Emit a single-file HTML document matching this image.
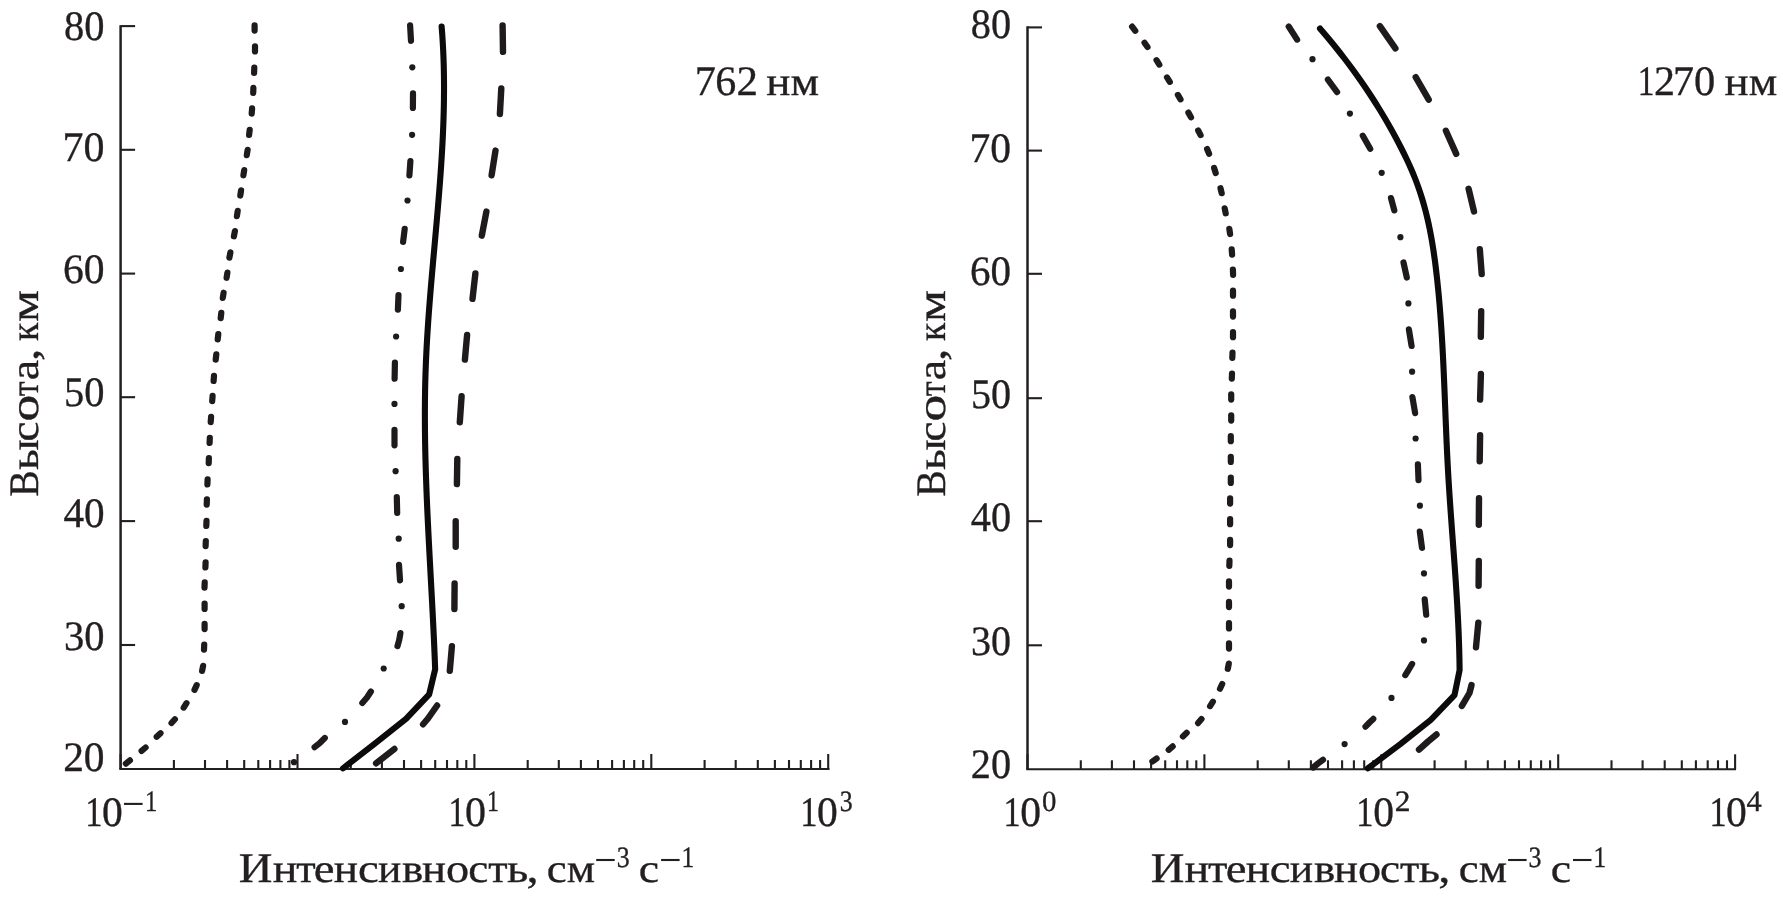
<!DOCTYPE html>
<html><head><meta charset="utf-8"><style>
html,body{margin:0;padding:0;background:#fff;width:1783px;height:898px;overflow:hidden}
svg{display:block;will-change:transform}
text{font-family:"Liberation Serif", serif;fill:#231f20;stroke:#231f20;stroke-width:0.35px;text-rendering:geometricPrecision}
</style></head><body>
<svg width="1783" height="898" viewBox="0 0 1783 898"><path d="M120.6 25.15 V769.0" stroke="#231f20" stroke-width="2.5" fill="none"/>
<path d="M119.35 769.0 H829.5" stroke="#231f20" stroke-width="2.1" fill="none"/>
<path d="M120.6 26.1 h14.5" stroke="#231f20" stroke-width="2.1"/>
<path d="M120.6 149.8 h14.5" stroke="#231f20" stroke-width="2.1"/>
<path d="M120.6 273.6 h14.5" stroke="#231f20" stroke-width="2.1"/>
<path d="M120.6 397.2 h14.5" stroke="#231f20" stroke-width="2.1"/>
<path d="M120.6 521.1 h14.5" stroke="#231f20" stroke-width="2.1"/>
<path d="M120.6 645.0 h14.5" stroke="#231f20" stroke-width="2.1"/>
<path d="M120.6 769.0 v-15" stroke="#231f20" stroke-width="2.1"/>
<path d="M173.9 769.0 v-9" stroke="#231f20" stroke-width="2.1"/>
<path d="M205.0 769.0 v-9" stroke="#231f20" stroke-width="2.1"/>
<path d="M227.1 769.0 v-9" stroke="#231f20" stroke-width="2.1"/>
<path d="M244.2 769.0 v-9" stroke="#231f20" stroke-width="2.1"/>
<path d="M258.3 769.0 v-9" stroke="#231f20" stroke-width="2.1"/>
<path d="M270.1 769.0 v-9" stroke="#231f20" stroke-width="2.1"/>
<path d="M280.4 769.0 v-9" stroke="#231f20" stroke-width="2.1"/>
<path d="M289.4 769.0 v-9" stroke="#231f20" stroke-width="2.1"/>
<path d="M297.5 769.0 v-15" stroke="#231f20" stroke-width="2.1"/>
<path d="M350.8 769.0 v-9" stroke="#231f20" stroke-width="2.1"/>
<path d="M381.9 769.0 v-9" stroke="#231f20" stroke-width="2.1"/>
<path d="M404.0 769.0 v-9" stroke="#231f20" stroke-width="2.1"/>
<path d="M421.1 769.0 v-9" stroke="#231f20" stroke-width="2.1"/>
<path d="M435.2 769.0 v-9" stroke="#231f20" stroke-width="2.1"/>
<path d="M447.0 769.0 v-9" stroke="#231f20" stroke-width="2.1"/>
<path d="M457.3 769.0 v-9" stroke="#231f20" stroke-width="2.1"/>
<path d="M466.3 769.0 v-9" stroke="#231f20" stroke-width="2.1"/>
<path d="M474.4 769.0 v-15" stroke="#231f20" stroke-width="2.1"/>
<path d="M527.7 769.0 v-9" stroke="#231f20" stroke-width="2.1"/>
<path d="M558.8 769.0 v-9" stroke="#231f20" stroke-width="2.1"/>
<path d="M580.9 769.0 v-9" stroke="#231f20" stroke-width="2.1"/>
<path d="M598.0 769.0 v-9" stroke="#231f20" stroke-width="2.1"/>
<path d="M612.1 769.0 v-9" stroke="#231f20" stroke-width="2.1"/>
<path d="M623.9 769.0 v-9" stroke="#231f20" stroke-width="2.1"/>
<path d="M634.2 769.0 v-9" stroke="#231f20" stroke-width="2.1"/>
<path d="M643.2 769.0 v-9" stroke="#231f20" stroke-width="2.1"/>
<path d="M651.3 769.0 v-15" stroke="#231f20" stroke-width="2.1"/>
<path d="M704.6 769.0 v-9" stroke="#231f20" stroke-width="2.1"/>
<path d="M735.7 769.0 v-9" stroke="#231f20" stroke-width="2.1"/>
<path d="M757.8 769.0 v-9" stroke="#231f20" stroke-width="2.1"/>
<path d="M774.9 769.0 v-9" stroke="#231f20" stroke-width="2.1"/>
<path d="M789.0 769.0 v-9" stroke="#231f20" stroke-width="2.1"/>
<path d="M800.8 769.0 v-9" stroke="#231f20" stroke-width="2.1"/>
<path d="M811.1 769.0 v-9" stroke="#231f20" stroke-width="2.1"/>
<path d="M820.1 769.0 v-9" stroke="#231f20" stroke-width="2.1"/>
<path d="M828.2 769.0 v-15" stroke="#231f20" stroke-width="2.1"/>
<path d="M1027.5 26.35 V769.3" stroke="#231f20" stroke-width="2.5" fill="none"/>
<path d="M1026.25 769.3 H1736" stroke="#231f20" stroke-width="2.1" fill="none"/>
<path d="M1027.5 27.4 h14.5" stroke="#231f20" stroke-width="2.1"/>
<path d="M1027.5 150.6 h14.5" stroke="#231f20" stroke-width="2.1"/>
<path d="M1027.5 273.8 h14.5" stroke="#231f20" stroke-width="2.1"/>
<path d="M1027.5 398.2 h14.5" stroke="#231f20" stroke-width="2.1"/>
<path d="M1027.5 521.2 h14.5" stroke="#231f20" stroke-width="2.1"/>
<path d="M1027.5 645.3 h14.5" stroke="#231f20" stroke-width="2.1"/>
<path d="M1027.5 769.3 v-15" stroke="#231f20" stroke-width="2.1"/>
<path d="M1080.8 769.3 v-9" stroke="#231f20" stroke-width="2.1"/>
<path d="M1111.9 769.3 v-9" stroke="#231f20" stroke-width="2.1"/>
<path d="M1134.0 769.3 v-9" stroke="#231f20" stroke-width="2.1"/>
<path d="M1151.1 769.3 v-9" stroke="#231f20" stroke-width="2.1"/>
<path d="M1165.2 769.3 v-9" stroke="#231f20" stroke-width="2.1"/>
<path d="M1177.0 769.3 v-9" stroke="#231f20" stroke-width="2.1"/>
<path d="M1187.3 769.3 v-9" stroke="#231f20" stroke-width="2.1"/>
<path d="M1196.3 769.3 v-9" stroke="#231f20" stroke-width="2.1"/>
<path d="M1204.4 769.3 v-15" stroke="#231f20" stroke-width="2.1"/>
<path d="M1257.7 769.3 v-9" stroke="#231f20" stroke-width="2.1"/>
<path d="M1288.8 769.3 v-9" stroke="#231f20" stroke-width="2.1"/>
<path d="M1310.9 769.3 v-9" stroke="#231f20" stroke-width="2.1"/>
<path d="M1328.0 769.3 v-9" stroke="#231f20" stroke-width="2.1"/>
<path d="M1342.1 769.3 v-9" stroke="#231f20" stroke-width="2.1"/>
<path d="M1353.9 769.3 v-9" stroke="#231f20" stroke-width="2.1"/>
<path d="M1364.2 769.3 v-9" stroke="#231f20" stroke-width="2.1"/>
<path d="M1373.2 769.3 v-9" stroke="#231f20" stroke-width="2.1"/>
<path d="M1381.3 769.3 v-15" stroke="#231f20" stroke-width="2.1"/>
<path d="M1434.6 769.3 v-9" stroke="#231f20" stroke-width="2.1"/>
<path d="M1465.7 769.3 v-9" stroke="#231f20" stroke-width="2.1"/>
<path d="M1487.8 769.3 v-9" stroke="#231f20" stroke-width="2.1"/>
<path d="M1504.9 769.3 v-9" stroke="#231f20" stroke-width="2.1"/>
<path d="M1519.0 769.3 v-9" stroke="#231f20" stroke-width="2.1"/>
<path d="M1530.8 769.3 v-9" stroke="#231f20" stroke-width="2.1"/>
<path d="M1541.1 769.3 v-9" stroke="#231f20" stroke-width="2.1"/>
<path d="M1550.1 769.3 v-9" stroke="#231f20" stroke-width="2.1"/>
<path d="M1558.2 769.3 v-15" stroke="#231f20" stroke-width="2.1"/>
<path d="M1611.5 769.3 v-9" stroke="#231f20" stroke-width="2.1"/>
<path d="M1642.6 769.3 v-9" stroke="#231f20" stroke-width="2.1"/>
<path d="M1664.7 769.3 v-9" stroke="#231f20" stroke-width="2.1"/>
<path d="M1681.8 769.3 v-9" stroke="#231f20" stroke-width="2.1"/>
<path d="M1695.9 769.3 v-9" stroke="#231f20" stroke-width="2.1"/>
<path d="M1707.7 769.3 v-9" stroke="#231f20" stroke-width="2.1"/>
<path d="M1718.0 769.3 v-9" stroke="#231f20" stroke-width="2.1"/>
<path d="M1727.0 769.3 v-9" stroke="#231f20" stroke-width="2.1"/>
<path d="M1735.1 769.3 v-15" stroke="#231f20" stroke-width="2.1"/>
<path d="M441.62 26.50 C441.75 28.17 442.15 33.17 442.38 36.50 C442.60 39.83 442.80 43.17 442.98 46.50 C443.16 49.83 443.31 53.17 443.44 56.50 C443.57 59.83 443.67 63.17 443.76 66.50 C443.85 69.83 443.91 73.17 443.95 76.50 C444.00 79.83 444.02 83.17 444.03 86.50 C444.03 89.83 444.01 93.17 443.98 96.50 C443.95 99.83 443.90 103.17 443.83 106.50 C443.76 109.83 443.68 113.17 443.58 116.50 C443.48 119.83 443.36 123.17 443.24 126.50 C443.11 129.83 442.96 133.17 442.81 136.50 C442.65 139.83 442.48 143.17 442.30 146.50 C442.11 149.83 441.92 153.17 441.72 156.50 C441.51 159.83 441.29 163.17 441.07 166.50 C440.85 169.83 440.61 173.17 440.37 176.50 C440.13 179.83 439.87 183.17 439.62 186.50 C439.36 189.83 439.09 193.17 438.82 196.50 C438.55 199.83 438.27 203.17 437.99 206.50 C437.71 209.83 437.42 213.17 437.13 216.50 C436.84 219.83 436.55 223.17 436.25 226.50 C435.96 229.83 435.66 233.17 435.36 236.50 C435.06 239.83 434.76 243.17 434.46 246.50 C434.16 249.83 433.86 253.17 433.56 256.50 C433.26 259.83 432.96 263.17 432.67 266.50 C432.37 269.83 432.08 273.17 431.79 276.50 C431.50 279.83 431.21 283.17 430.93 286.50 C430.65 289.83 430.38 293.17 430.11 296.50 C429.84 299.83 429.58 303.17 429.32 306.50 C429.06 309.83 428.81 313.17 428.57 316.50 C428.33 319.83 428.10 323.17 427.88 326.50 C427.66 329.83 427.45 333.17 427.24 336.50 C427.04 339.83 426.85 343.17 426.67 346.50 C426.50 349.83 426.33 353.17 426.18 356.50 C426.02 359.83 425.88 363.17 425.76 366.50 C425.63 369.83 425.52 373.17 425.42 376.50 C425.33 379.83 425.24 383.17 425.17 386.50 C425.10 389.83 425.05 393.17 425.00 396.50 C424.96 399.83 424.93 403.17 424.91 406.50 C424.89 409.83 424.88 413.17 424.88 416.50 C424.89 419.83 424.90 423.17 424.93 426.50 C424.95 429.83 424.98 433.17 425.03 436.50 C425.07 439.83 425.13 443.17 425.19 446.50 C425.25 449.83 425.33 453.17 425.41 456.50 C425.49 459.83 425.58 463.17 425.67 466.50 C425.77 469.83 425.87 473.17 425.99 476.50 C426.10 479.83 426.22 483.17 426.34 486.50 C426.46 489.83 426.59 493.17 426.73 496.50 C426.87 499.83 427.01 503.17 427.15 506.50 C427.30 509.83 427.45 513.17 427.61 516.50 C427.76 519.83 427.92 523.17 428.09 526.50 C428.25 529.83 428.41 533.17 428.58 536.50 C428.75 539.83 428.93 543.17 429.10 546.50 C429.27 549.83 429.45 553.17 429.63 556.50 C429.80 559.83 429.98 563.17 430.16 566.50 C430.34 569.83 430.52 573.17 430.70 576.50 C430.88 579.83 431.06 583.17 431.24 586.50 C431.42 589.83 431.60 593.17 431.78 596.50 C431.96 599.83 432.13 603.17 432.31 606.50 C432.48 609.83 432.65 613.17 432.82 616.50 C432.99 619.83 433.16 623.17 433.32 626.50 C433.48 629.83 433.64 633.17 433.80 636.50 C433.95 639.83 434.10 643.17 434.25 646.50 C434.39 649.83 434.53 653.17 434.67 656.50 C434.80 659.83 434.98 664.37 435.06 666.50 C435.14 668.63 435.14 668.83 435.16 669.30 L429.20 694.30 L406.00 718.80 L374.20 744.10 L343.00 768.30" stroke="#0c0a0a" stroke-width="6.1" fill="none" stroke-linecap="round" stroke-linejoin="round"/>
<path d="M502.6 25.5 L503.0 51.9" stroke="#1f1b1c" stroke-width="6.4" fill="none" stroke-linecap="round" stroke-linejoin="round"/>
<path d="M501.3 88.5 L499.9 114.0" stroke="#1f1b1c" stroke-width="6.4" fill="none" stroke-linecap="round" stroke-linejoin="round"/>
<path d="M495.5 150.6 L491.6 175.3" stroke="#1f1b1c" stroke-width="6.4" fill="none" stroke-linecap="round" stroke-linejoin="round"/>
<path d="M486.4 211.6 L481.8 235.7" stroke="#1f1b1c" stroke-width="6.4" fill="none" stroke-linecap="round" stroke-linejoin="round"/>
<path d="M475.4 273.4 L472.5 298.8" stroke="#1f1b1c" stroke-width="6.4" fill="none" stroke-linecap="round" stroke-linejoin="round"/>
<path d="M467.1 335.0 L464.9 359.6" stroke="#1f1b1c" stroke-width="6.4" fill="none" stroke-linecap="round" stroke-linejoin="round"/>
<path d="M461.6 396.2 L459.8 422.3" stroke="#1f1b1c" stroke-width="6.4" fill="none" stroke-linecap="round" stroke-linejoin="round"/>
<path d="M457.3 458.9 L456.9 484.1" stroke="#1f1b1c" stroke-width="6.4" fill="none" stroke-linecap="round" stroke-linejoin="round"/>
<path d="M455.7 521.1 L455.7 546.8" stroke="#1f1b1c" stroke-width="6.4" fill="none" stroke-linecap="round" stroke-linejoin="round"/>
<path d="M454.6 583.4 L454.4 609.0" stroke="#1f1b1c" stroke-width="6.4" fill="none" stroke-linecap="round" stroke-linejoin="round"/>
<path d="M451.9 646.2 L449.8 670.8" stroke="#1f1b1c" stroke-width="6.4" fill="none" stroke-linecap="round" stroke-linejoin="round"/>
<path d="M437.1 705.5 L428.0 718.5 L423.1 724.3" stroke="#1f1b1c" stroke-width="6.4" fill="none" stroke-linecap="round" stroke-linejoin="round"/>
<path d="M394.4 748.9 L376.1 763.3" stroke="#1f1b1c" stroke-width="6.4" fill="none" stroke-linecap="round" stroke-linejoin="round"/>
<path d="M254.6 25.4 L254.6 30.6" stroke="#1f1b1c" stroke-width="6.2" fill="none" stroke-linecap="round" stroke-linejoin="round"/>
<path d="M255.0 46.3 L255.0 51.5" stroke="#1f1b1c" stroke-width="6.2" fill="none" stroke-linecap="round" stroke-linejoin="round"/>
<path d="M254.3 67.6 L254.1 72.8" stroke="#1f1b1c" stroke-width="6.2" fill="none" stroke-linecap="round" stroke-linejoin="round"/>
<path d="M253.4 87.8 L253.2 93.0" stroke="#1f1b1c" stroke-width="6.2" fill="none" stroke-linecap="round" stroke-linejoin="round"/>
<path d="M252.1 108.4 L251.7 113.6" stroke="#1f1b1c" stroke-width="6.2" fill="none" stroke-linecap="round" stroke-linejoin="round"/>
<path d="M249.7 129.8 L249.1 135.0" stroke="#1f1b1c" stroke-width="6.2" fill="none" stroke-linecap="round" stroke-linejoin="round"/>
<path d="M247.6 149.9 L246.8 155.1" stroke="#1f1b1c" stroke-width="6.2" fill="none" stroke-linecap="round" stroke-linejoin="round"/>
<path d="M244.2 170.1 L243.4 175.3" stroke="#1f1b1c" stroke-width="6.2" fill="none" stroke-linecap="round" stroke-linejoin="round"/>
<path d="M241.1 190.3 L240.3 195.5" stroke="#1f1b1c" stroke-width="6.2" fill="none" stroke-linecap="round" stroke-linejoin="round"/>
<path d="M237.7 210.9 L236.9 216.1" stroke="#1f1b1c" stroke-width="6.2" fill="none" stroke-linecap="round" stroke-linejoin="round"/>
<path d="M234.9 231.1 L233.9 236.3" stroke="#1f1b1c" stroke-width="6.2" fill="none" stroke-linecap="round" stroke-linejoin="round"/>
<path d="M230.4 252.4 L229.4 257.6" stroke="#1f1b1c" stroke-width="6.2" fill="none" stroke-linecap="round" stroke-linejoin="round"/>
<path d="M227.4 272.6 L226.6 277.8" stroke="#1f1b1c" stroke-width="6.2" fill="none" stroke-linecap="round" stroke-linejoin="round"/>
<path d="M223.6 292.7 L222.8 297.9" stroke="#1f1b1c" stroke-width="6.2" fill="none" stroke-linecap="round" stroke-linejoin="round"/>
<path d="M221.3 312.9 L220.7 318.1" stroke="#1f1b1c" stroke-width="6.2" fill="none" stroke-linecap="round" stroke-linejoin="round"/>
<path d="M218.3 334.2 L217.7 339.4" stroke="#1f1b1c" stroke-width="6.2" fill="none" stroke-linecap="round" stroke-linejoin="round"/>
<path d="M216.3 354.4 L215.7 359.6" stroke="#1f1b1c" stroke-width="6.2" fill="none" stroke-linecap="round" stroke-linejoin="round"/>
<path d="M214.0 375.8 L213.6 381.0" stroke="#1f1b1c" stroke-width="6.2" fill="none" stroke-linecap="round" stroke-linejoin="round"/>
<path d="M212.6 395.9 L212.2 401.1" stroke="#1f1b1c" stroke-width="6.2" fill="none" stroke-linecap="round" stroke-linejoin="round"/>
<path d="M211.1 416.9 L210.7 422.1" stroke="#1f1b1c" stroke-width="6.2" fill="none" stroke-linecap="round" stroke-linejoin="round"/>
<path d="M209.8 437.8 L209.6 443.0" stroke="#1f1b1c" stroke-width="6.2" fill="none" stroke-linecap="round" stroke-linejoin="round"/>
<path d="M208.9 458.0 L208.7 463.2" stroke="#1f1b1c" stroke-width="6.2" fill="none" stroke-linecap="round" stroke-linejoin="round"/>
<path d="M207.6 479.3 L207.4 484.5" stroke="#1f1b1c" stroke-width="6.2" fill="none" stroke-linecap="round" stroke-linejoin="round"/>
<path d="M206.9 499.4 L206.7 504.6" stroke="#1f1b1c" stroke-width="6.2" fill="none" stroke-linecap="round" stroke-linejoin="round"/>
<path d="M206.5 520.8 L206.3 526.0" stroke="#1f1b1c" stroke-width="6.2" fill="none" stroke-linecap="round" stroke-linejoin="round"/>
<path d="M205.8 541.0 L205.6 546.2" stroke="#1f1b1c" stroke-width="6.2" fill="none" stroke-linecap="round" stroke-linejoin="round"/>
<path d="M205.6 562.3 L205.4 567.5" stroke="#1f1b1c" stroke-width="6.2" fill="none" stroke-linecap="round" stroke-linejoin="round"/>
<path d="M204.7 582.4 L204.5 587.6" stroke="#1f1b1c" stroke-width="6.2" fill="none" stroke-linecap="round" stroke-linejoin="round"/>
<path d="M204.6 603.7 L204.6 608.9" stroke="#1f1b1c" stroke-width="6.2" fill="none" stroke-linecap="round" stroke-linejoin="round"/>
<path d="M204.6 623.9 L204.6 629.1" stroke="#1f1b1c" stroke-width="6.2" fill="none" stroke-linecap="round" stroke-linejoin="round"/>
<path d="M204.2 644.5 L204.0 649.7" stroke="#1f1b1c" stroke-width="6.2" fill="none" stroke-linecap="round" stroke-linejoin="round"/>
<path d="M203.1 665.9 L202.1 670.9" stroke="#1f1b1c" stroke-width="6.2" fill="none" stroke-linecap="round" stroke-linejoin="round"/>
<path d="M196.7 685.1 L194.5 689.9" stroke="#1f1b1c" stroke-width="6.2" fill="none" stroke-linecap="round" stroke-linejoin="round"/>
<path d="M186.5 703.2 L183.7 707.6" stroke="#1f1b1c" stroke-width="6.2" fill="none" stroke-linecap="round" stroke-linejoin="round"/>
<path d="M174.9 719.2 L171.5 723.0" stroke="#1f1b1c" stroke-width="6.2" fill="none" stroke-linecap="round" stroke-linejoin="round"/>
<path d="M160.5 733.2 L156.7 736.8" stroke="#1f1b1c" stroke-width="6.2" fill="none" stroke-linecap="round" stroke-linejoin="round"/>
<path d="M145.6 747.5 L141.6 750.9" stroke="#1f1b1c" stroke-width="6.2" fill="none" stroke-linecap="round" stroke-linejoin="round"/>
<path d="M129.9 760.4 L125.9 763.6" stroke="#1f1b1c" stroke-width="6.2" fill="none" stroke-linecap="round" stroke-linejoin="round"/>
<path d="M410.1 25.4 L411.0 40.8" stroke="#1f1b1c" stroke-width="6.2" fill="none" stroke-linecap="round" stroke-linejoin="round"/>
<path d="M413.0 93.4 L412.9 108.0" stroke="#1f1b1c" stroke-width="6.2" fill="none" stroke-linecap="round" stroke-linejoin="round"/>
<path d="M410.4 161.0 L409.4 175.4" stroke="#1f1b1c" stroke-width="6.2" fill="none" stroke-linecap="round" stroke-linejoin="round"/>
<path d="M404.7 228.8 L403.1 241.9" stroke="#1f1b1c" stroke-width="6.2" fill="none" stroke-linecap="round" stroke-linejoin="round"/>
<path d="M398.5 295.0 L397.9 309.6" stroke="#1f1b1c" stroke-width="6.2" fill="none" stroke-linecap="round" stroke-linejoin="round"/>
<path d="M394.9 362.7 L394.6 378.7" stroke="#1f1b1c" stroke-width="6.2" fill="none" stroke-linecap="round" stroke-linejoin="round"/>
<path d="M394.5 429.9 L394.5 445.3" stroke="#1f1b1c" stroke-width="6.2" fill="none" stroke-linecap="round" stroke-linejoin="round"/>
<path d="M396.8 497.0 L397.2 513.0" stroke="#1f1b1c" stroke-width="6.2" fill="none" stroke-linecap="round" stroke-linejoin="round"/>
<path d="M399.0 564.9 L400.0 580.3" stroke="#1f1b1c" stroke-width="6.2" fill="none" stroke-linecap="round" stroke-linejoin="round"/>
<path d="M400.4 633.1 L399.2 640.0 L397.5 646.1" stroke="#1f1b1c" stroke-width="6.2" fill="none" stroke-linecap="round" stroke-linejoin="round"/>
<path d="M370.9 691.5 L367.0 697.5 L362.3 703.0" stroke="#1f1b1c" stroke-width="6.2" fill="none" stroke-linecap="round" stroke-linejoin="round"/>
<path d="M324.8 738.0 L320.0 742.8 L314.6 747.2" stroke="#1f1b1c" stroke-width="6.2" fill="none" stroke-linecap="round" stroke-linejoin="round"/>
<circle cx="412.3" cy="67.3" r="3.10" fill="#1f1b1c"/>
<circle cx="412.1" cy="134.8" r="3.10" fill="#1f1b1c"/>
<circle cx="407.5" cy="200.5" r="3.10" fill="#1f1b1c"/>
<circle cx="400.9" cy="269.0" r="3.10" fill="#1f1b1c"/>
<circle cx="396.1" cy="336.5" r="3.10" fill="#1f1b1c"/>
<circle cx="394.5" cy="403.9" r="3.10" fill="#1f1b1c"/>
<circle cx="395.6" cy="471.2" r="3.10" fill="#1f1b1c"/>
<circle cx="398.7" cy="538.7" r="3.10" fill="#1f1b1c"/>
<circle cx="401.7" cy="606.2" r="3.10" fill="#1f1b1c"/>
<circle cx="383.7" cy="668.5" r="3.10" fill="#1f1b1c"/>
<circle cx="345.0" cy="721.9" r="3.10" fill="#1f1b1c"/>
<circle cx="294.0" cy="762.2" r="3.10" fill="#1f1b1c"/>
<path d="M1319.98 28.50 C1321.40 30.17 1325.70 35.17 1328.47 38.50 C1331.24 41.83 1333.96 45.17 1336.62 48.50 C1339.29 51.83 1341.90 55.17 1344.46 58.50 C1347.01 61.83 1349.52 65.17 1351.97 68.50 C1354.42 71.83 1356.82 75.17 1359.17 78.50 C1361.52 81.83 1363.82 85.17 1366.07 88.50 C1368.32 91.83 1370.52 95.17 1372.67 98.50 C1374.82 101.83 1376.93 105.17 1378.98 108.50 C1381.04 111.83 1383.05 115.17 1385.01 118.50 C1386.97 121.83 1388.89 125.17 1390.76 128.50 C1392.63 131.83 1394.45 135.17 1396.23 138.50 C1398.01 141.83 1399.75 145.17 1401.44 148.50 C1403.13 151.83 1404.78 155.17 1406.36 158.50 C1407.95 161.83 1409.48 165.17 1410.94 168.50 C1412.39 171.83 1413.79 175.17 1415.10 178.50 C1416.41 181.83 1417.64 185.17 1418.80 188.50 C1419.96 191.83 1421.04 195.17 1422.06 198.50 C1423.08 201.83 1424.03 205.17 1424.92 208.50 C1425.82 211.83 1426.64 215.17 1427.42 218.50 C1428.20 221.83 1428.93 225.17 1429.60 228.50 C1430.28 231.83 1430.91 235.17 1431.50 238.50 C1432.09 241.83 1432.64 245.17 1433.16 248.50 C1433.67 251.83 1434.15 255.17 1434.60 258.50 C1435.06 261.83 1435.48 265.17 1435.89 268.50 C1436.29 271.83 1436.67 275.17 1437.04 278.50 C1437.40 281.83 1437.75 285.17 1438.08 288.50 C1438.41 291.83 1438.73 295.17 1439.03 298.50 C1439.33 301.83 1439.61 305.17 1439.88 308.50 C1440.15 311.83 1440.41 315.17 1440.65 318.50 C1440.90 321.83 1441.13 325.17 1441.35 328.50 C1441.57 331.83 1441.78 335.17 1441.98 338.50 C1442.18 341.83 1442.37 345.17 1442.55 348.50 C1442.73 351.83 1442.91 355.17 1443.07 358.50 C1443.24 361.83 1443.40 365.17 1443.55 368.50 C1443.71 371.83 1443.86 375.17 1444.00 378.50 C1444.15 381.83 1444.28 385.17 1444.42 388.50 C1444.56 391.83 1444.69 395.17 1444.83 398.50 C1444.96 401.83 1445.09 405.17 1445.23 408.50 C1445.36 411.83 1445.49 415.17 1445.62 418.50 C1445.76 421.83 1445.89 425.17 1446.03 428.50 C1446.17 431.83 1446.31 435.17 1446.45 438.50 C1446.60 441.83 1446.74 445.17 1446.90 448.50 C1447.05 451.83 1447.21 455.17 1447.38 458.50 C1447.55 461.83 1447.72 465.17 1447.90 468.50 C1448.08 471.83 1448.27 475.17 1448.47 478.50 C1448.67 481.83 1448.88 485.17 1449.09 488.50 C1449.30 491.83 1449.52 495.17 1449.75 498.50 C1449.97 501.83 1450.20 505.17 1450.44 508.50 C1450.67 511.83 1450.91 515.17 1451.16 518.50 C1451.40 521.83 1451.64 525.17 1451.89 528.50 C1452.13 531.83 1452.38 535.17 1452.63 538.50 C1452.88 541.83 1453.13 545.17 1453.37 548.50 C1453.62 551.83 1453.87 555.17 1454.11 558.50 C1454.36 561.83 1454.60 565.17 1454.84 568.50 C1455.07 571.83 1455.31 575.17 1455.54 578.50 C1455.77 581.83 1455.99 585.17 1456.21 588.50 C1456.43 591.83 1456.64 595.17 1456.84 598.50 C1457.05 601.83 1457.24 605.17 1457.43 608.50 C1457.62 611.83 1457.80 615.17 1457.97 618.50 C1458.14 621.83 1458.30 625.17 1458.44 628.50 C1458.59 631.83 1458.73 635.17 1458.85 638.50 C1458.97 641.83 1459.09 645.17 1459.18 648.50 C1459.28 651.83 1459.36 655.17 1459.43 658.50 C1459.50 661.83 1459.55 666.57 1459.58 668.50 C1459.61 670.43 1459.60 669.83 1459.60 670.10 L1454.50 695.10 L1430.80 719.80 L1400.30 744.10 L1368.00 768.30" stroke="#0c0a0a" stroke-width="6.1" fill="none" stroke-linecap="round" stroke-linejoin="round"/>
<path d="M1379.9 26.2 L1395.4 48.3" stroke="#1f1b1c" stroke-width="6.4" fill="none" stroke-linecap="round" stroke-linejoin="round"/>
<path d="M1415.7 77.2 L1428.7 99.7" stroke="#1f1b1c" stroke-width="6.4" fill="none" stroke-linecap="round" stroke-linejoin="round"/>
<path d="M1445.9 130.7 L1456.2 153.9" stroke="#1f1b1c" stroke-width="6.4" fill="none" stroke-linecap="round" stroke-linejoin="round"/>
<path d="M1468.6 188.8 L1474.0 211.4" stroke="#1f1b1c" stroke-width="6.4" fill="none" stroke-linecap="round" stroke-linejoin="round"/>
<path d="M1479.8 249.2 L1481.7 274.0" stroke="#1f1b1c" stroke-width="6.4" fill="none" stroke-linecap="round" stroke-linejoin="round"/>
<path d="M1481.2 311.1 L1480.8 336.9" stroke="#1f1b1c" stroke-width="6.4" fill="none" stroke-linecap="round" stroke-linejoin="round"/>
<path d="M1480.9 373.9 L1480.1 399.6" stroke="#1f1b1c" stroke-width="6.4" fill="none" stroke-linecap="round" stroke-linejoin="round"/>
<path d="M1480.1 435.1 L1479.7 461.2" stroke="#1f1b1c" stroke-width="6.4" fill="none" stroke-linecap="round" stroke-linejoin="round"/>
<path d="M1479.0 498.3 L1478.8 524.7" stroke="#1f1b1c" stroke-width="6.4" fill="none" stroke-linecap="round" stroke-linejoin="round"/>
<path d="M1478.8 561.0 L1478.6 585.7" stroke="#1f1b1c" stroke-width="6.4" fill="none" stroke-linecap="round" stroke-linejoin="round"/>
<path d="M1478.3 622.7 L1476.0 647.3" stroke="#1f1b1c" stroke-width="6.4" fill="none" stroke-linecap="round" stroke-linejoin="round"/>
<path d="M1471.5 685.1 L1469.5 693.0 L1461.9 705.9" stroke="#1f1b1c" stroke-width="6.4" fill="none" stroke-linecap="round" stroke-linejoin="round"/>
<path d="M1436.5 734.5 L1428.0 741.5 L1419.0 749.6" stroke="#1f1b1c" stroke-width="6.4" fill="none" stroke-linecap="round" stroke-linejoin="round"/>
<path d="M1132.1 26.6 L1135.3 30.8" stroke="#1f1b1c" stroke-width="6.2" fill="none" stroke-linecap="round" stroke-linejoin="round"/>
<path d="M1144.5 42.8 L1147.5 47.0" stroke="#1f1b1c" stroke-width="6.2" fill="none" stroke-linecap="round" stroke-linejoin="round"/>
<path d="M1156.5 60.2 L1159.3 64.6" stroke="#1f1b1c" stroke-width="6.2" fill="none" stroke-linecap="round" stroke-linejoin="round"/>
<path d="M1167.0 77.4 L1169.8 81.8" stroke="#1f1b1c" stroke-width="6.2" fill="none" stroke-linecap="round" stroke-linejoin="round"/>
<path d="M1177.9 94.9 L1180.5 99.3" stroke="#1f1b1c" stroke-width="6.2" fill="none" stroke-linecap="round" stroke-linejoin="round"/>
<path d="M1188.4 112.6 L1191.0 117.2" stroke="#1f1b1c" stroke-width="6.2" fill="none" stroke-linecap="round" stroke-linejoin="round"/>
<path d="M1198.2 130.5 L1200.6 135.1" stroke="#1f1b1c" stroke-width="6.2" fill="none" stroke-linecap="round" stroke-linejoin="round"/>
<path d="M1207.1 149.0 L1209.1 153.8" stroke="#1f1b1c" stroke-width="6.2" fill="none" stroke-linecap="round" stroke-linejoin="round"/>
<path d="M1214.1 168.0 L1215.7 173.0" stroke="#1f1b1c" stroke-width="6.2" fill="none" stroke-linecap="round" stroke-linejoin="round"/>
<path d="M1220.5 188.2 L1221.7 193.2" stroke="#1f1b1c" stroke-width="6.2" fill="none" stroke-linecap="round" stroke-linejoin="round"/>
<path d="M1224.7 208.3 L1225.7 213.3" stroke="#1f1b1c" stroke-width="6.2" fill="none" stroke-linecap="round" stroke-linejoin="round"/>
<path d="M1229.3 228.8 L1230.1 234.0" stroke="#1f1b1c" stroke-width="6.2" fill="none" stroke-linecap="round" stroke-linejoin="round"/>
<path d="M1231.7 249.4 L1232.1 254.6" stroke="#1f1b1c" stroke-width="6.2" fill="none" stroke-linecap="round" stroke-linejoin="round"/>
<path d="M1232.9 269.6 L1233.1 274.8" stroke="#1f1b1c" stroke-width="6.2" fill="none" stroke-linecap="round" stroke-linejoin="round"/>
<path d="M1233.0 290.5 L1233.0 295.7" stroke="#1f1b1c" stroke-width="6.2" fill="none" stroke-linecap="round" stroke-linejoin="round"/>
<path d="M1233.0 311.4 L1233.0 316.6" stroke="#1f1b1c" stroke-width="6.2" fill="none" stroke-linecap="round" stroke-linejoin="round"/>
<path d="M1233.0 332.0 L1233.0 337.2" stroke="#1f1b1c" stroke-width="6.2" fill="none" stroke-linecap="round" stroke-linejoin="round"/>
<path d="M1232.5 352.6 L1232.3 357.8" stroke="#1f1b1c" stroke-width="6.2" fill="none" stroke-linecap="round" stroke-linejoin="round"/>
<path d="M1232.0 373.5 L1231.8 378.7" stroke="#1f1b1c" stroke-width="6.2" fill="none" stroke-linecap="round" stroke-linejoin="round"/>
<path d="M1231.2 394.4 L1231.2 399.6" stroke="#1f1b1c" stroke-width="6.2" fill="none" stroke-linecap="round" stroke-linejoin="round"/>
<path d="M1231.2 415.4 L1231.2 420.6" stroke="#1f1b1c" stroke-width="6.2" fill="none" stroke-linecap="round" stroke-linejoin="round"/>
<path d="M1230.8 436.0 L1230.8 441.2" stroke="#1f1b1c" stroke-width="6.2" fill="none" stroke-linecap="round" stroke-linejoin="round"/>
<path d="M1230.8 456.8 L1230.8 462.0" stroke="#1f1b1c" stroke-width="6.2" fill="none" stroke-linecap="round" stroke-linejoin="round"/>
<path d="M1230.8 477.7 L1230.8 482.9" stroke="#1f1b1c" stroke-width="6.2" fill="none" stroke-linecap="round" stroke-linejoin="round"/>
<path d="M1230.1 498.4 L1230.1 503.6" stroke="#1f1b1c" stroke-width="6.2" fill="none" stroke-linecap="round" stroke-linejoin="round"/>
<path d="M1230.1 519.0 L1230.1 524.2" stroke="#1f1b1c" stroke-width="6.2" fill="none" stroke-linecap="round" stroke-linejoin="round"/>
<path d="M1230.1 539.9 L1230.1 545.1" stroke="#1f1b1c" stroke-width="6.2" fill="none" stroke-linecap="round" stroke-linejoin="round"/>
<path d="M1229.5 560.7 L1229.3 565.9" stroke="#1f1b1c" stroke-width="6.2" fill="none" stroke-linecap="round" stroke-linejoin="round"/>
<path d="M1229.0 581.4 L1229.0 586.6" stroke="#1f1b1c" stroke-width="6.2" fill="none" stroke-linecap="round" stroke-linejoin="round"/>
<path d="M1229.0 601.9 L1229.0 607.1" stroke="#1f1b1c" stroke-width="6.2" fill="none" stroke-linecap="round" stroke-linejoin="round"/>
<path d="M1229.0 623.2 L1229.0 628.4" stroke="#1f1b1c" stroke-width="6.2" fill="none" stroke-linecap="round" stroke-linejoin="round"/>
<path d="M1229.0 643.4 L1229.0 648.6" stroke="#1f1b1c" stroke-width="6.2" fill="none" stroke-linecap="round" stroke-linejoin="round"/>
<path d="M1228.8 663.6 L1227.8 668.8" stroke="#1f1b1c" stroke-width="6.2" fill="none" stroke-linecap="round" stroke-linejoin="round"/>
<path d="M1222.2 684.0 L1220.0 688.8" stroke="#1f1b1c" stroke-width="6.2" fill="none" stroke-linecap="round" stroke-linejoin="round"/>
<path d="M1212.9 701.7 L1210.1 706.1" stroke="#1f1b1c" stroke-width="6.2" fill="none" stroke-linecap="round" stroke-linejoin="round"/>
<path d="M1201.5 719.1 L1198.1 723.1" stroke="#1f1b1c" stroke-width="6.2" fill="none" stroke-linecap="round" stroke-linejoin="round"/>
<path d="M1186.7 732.8 L1182.9 736.4" stroke="#1f1b1c" stroke-width="6.2" fill="none" stroke-linecap="round" stroke-linejoin="round"/>
<path d="M1172.7 746.4 L1168.7 749.8" stroke="#1f1b1c" stroke-width="6.2" fill="none" stroke-linecap="round" stroke-linejoin="round"/>
<path d="M1156.6 758.5 L1152.4 761.5" stroke="#1f1b1c" stroke-width="6.2" fill="none" stroke-linecap="round" stroke-linejoin="round"/>
<path d="M1288.7 26.5 L1297.1 39.6" stroke="#1f1b1c" stroke-width="6.2" fill="none" stroke-linecap="round" stroke-linejoin="round"/>
<path d="M1327.9 79.6 L1337.1 92.1" stroke="#1f1b1c" stroke-width="6.2" fill="none" stroke-linecap="round" stroke-linejoin="round"/>
<path d="M1362.8 135.8 L1370.2 148.7" stroke="#1f1b1c" stroke-width="6.2" fill="none" stroke-linecap="round" stroke-linejoin="round"/>
<path d="M1391.0 198.1 L1394.3 210.4" stroke="#1f1b1c" stroke-width="6.2" fill="none" stroke-linecap="round" stroke-linejoin="round"/>
<path d="M1403.5 262.5 L1406.8 277.5" stroke="#1f1b1c" stroke-width="6.2" fill="none" stroke-linecap="round" stroke-linejoin="round"/>
<path d="M1408.9 329.4 L1411.6 345.9" stroke="#1f1b1c" stroke-width="6.2" fill="none" stroke-linecap="round" stroke-linejoin="round"/>
<path d="M1412.4 397.1 L1415.1 413.1" stroke="#1f1b1c" stroke-width="6.2" fill="none" stroke-linecap="round" stroke-linejoin="round"/>
<path d="M1417.9 464.3 L1418.5 480.2" stroke="#1f1b1c" stroke-width="6.2" fill="none" stroke-linecap="round" stroke-linejoin="round"/>
<path d="M1419.8 531.6 L1422.0 547.9" stroke="#1f1b1c" stroke-width="6.2" fill="none" stroke-linecap="round" stroke-linejoin="round"/>
<path d="M1424.7 599.4 L1426.2 614.7" stroke="#1f1b1c" stroke-width="6.2" fill="none" stroke-linecap="round" stroke-linejoin="round"/>
<path d="M1412.1 663.9 L1408.5 670.0 L1405.3 675.1" stroke="#1f1b1c" stroke-width="6.2" fill="none" stroke-linecap="round" stroke-linejoin="round"/>
<path d="M1373.3 718.9 L1369.5 722.5 L1365.5 726.7" stroke="#1f1b1c" stroke-width="6.2" fill="none" stroke-linecap="round" stroke-linejoin="round"/>
<path d="M1323.0 759.8 L1318.0 763.5 L1313.1 767.5" stroke="#1f1b1c" stroke-width="6.2" fill="none" stroke-linecap="round" stroke-linejoin="round"/>
<circle cx="1312.5" cy="59.2" r="3.10" fill="#1f1b1c"/>
<circle cx="1349.9" cy="113.6" r="3.10" fill="#1f1b1c"/>
<circle cx="1381.7" cy="172.8" r="3.10" fill="#1f1b1c"/>
<circle cx="1400.4" cy="237.2" r="3.10" fill="#1f1b1c"/>
<circle cx="1408.4" cy="303.4" r="3.10" fill="#1f1b1c"/>
<circle cx="1412.1" cy="371.7" r="3.10" fill="#1f1b1c"/>
<circle cx="1415.6" cy="438.5" r="3.10" fill="#1f1b1c"/>
<circle cx="1419.9" cy="505.7" r="3.10" fill="#1f1b1c"/>
<circle cx="1424.0" cy="573.4" r="3.10" fill="#1f1b1c"/>
<circle cx="1424.0" cy="640.4" r="3.10" fill="#1f1b1c"/>
<circle cx="1391.5" cy="697.9" r="3.10" fill="#1f1b1c"/>
<circle cx="1344.6" cy="744.1" r="3.10" fill="#1f1b1c"/>
<rect x="124.0" y="802.85" width="18.6" height="2.1" fill="#231f20"/>
<rect x="596.2" y="858.95" width="18.5" height="2.1" fill="#231f20"/>
<rect x="661.1" y="858.95" width="18.5" height="2.1" fill="#231f20"/>
<rect x="1508.1" y="858.95" width="18.5" height="2.1" fill="#231f20"/>
<rect x="1573.0" y="858.95" width="18.5" height="2.1" fill="#231f20"/>
<text x="64.07" y="40.3" font-size="42" textLength="40.49" lengthAdjust="spacingAndGlyphs">80</text>
<text x="62.60" y="160.5" font-size="42" textLength="42.00" lengthAdjust="spacingAndGlyphs">70</text>
<text x="63.02" y="282.6" font-size="42" textLength="41.57" lengthAdjust="spacingAndGlyphs">60</text>
<text x="64.07" y="405.8" font-size="42" textLength="40.49" lengthAdjust="spacingAndGlyphs">50</text>
<text x="63.42" y="526.7" font-size="42" textLength="41.16" lengthAdjust="spacingAndGlyphs">40</text>
<text x="64.07" y="649.5" font-size="42" textLength="40.49" lengthAdjust="spacingAndGlyphs">30</text>
<text x="63.13" y="771.2" font-size="42" textLength="41.46" lengthAdjust="spacingAndGlyphs">20</text>
<text x="970.78" y="38.3" font-size="42" textLength="40.28" lengthAdjust="spacingAndGlyphs">80</text>
<text x="969.53" y="162.1" font-size="42" textLength="41.56" lengthAdjust="spacingAndGlyphs">70</text>
<text x="970.05" y="284.8" font-size="42" textLength="41.03" lengthAdjust="spacingAndGlyphs">60</text>
<text x="970.89" y="407.8" font-size="42" textLength="40.17" lengthAdjust="spacingAndGlyphs">50</text>
<text x="970.84" y="531.1" font-size="42" textLength="40.22" lengthAdjust="spacingAndGlyphs">40</text>
<text x="971.10" y="655.2" font-size="42" textLength="39.95" lengthAdjust="spacingAndGlyphs">30</text>
<text x="970.78" y="778" font-size="42" textLength="40.28" lengthAdjust="spacingAndGlyphs">20</text>
<text x="85.32" y="826" font-size="42" textLength="17.22" lengthAdjust="spacingAndGlyphs">1</text>
<text x="102.12" y="826" font-size="42" textLength="20.77" lengthAdjust="spacingAndGlyphs">0</text>
<text x="144.91" y="811" font-size="29.5" textLength="12.24" lengthAdjust="spacingAndGlyphs">1</text>
<text x="448.50" y="826" font-size="42" textLength="16.80" lengthAdjust="spacingAndGlyphs">1</text>
<text x="465.10" y="826" font-size="42" textLength="21.00" lengthAdjust="spacingAndGlyphs">0</text>
<text x="487.07" y="811" font-size="29.5" textLength="11.95" lengthAdjust="spacingAndGlyphs">1</text>
<text x="800.32" y="826" font-size="42" textLength="17.22" lengthAdjust="spacingAndGlyphs">1</text>
<text x="817.12" y="826" font-size="42" textLength="20.77" lengthAdjust="spacingAndGlyphs">0</text>
<text x="839.82" y="811" font-size="29.5" textLength="12.93" lengthAdjust="spacingAndGlyphs">3</text>
<text x="1003.45" y="826" font-size="42" textLength="17.08" lengthAdjust="spacingAndGlyphs">1</text>
<text x="1020.22" y="826" font-size="42" textLength="20.77" lengthAdjust="spacingAndGlyphs">0</text>
<text x="1042.02" y="811" font-size="29.5" textLength="14.41" lengthAdjust="spacingAndGlyphs">0</text>
<text x="1356.22" y="826" font-size="42" textLength="17.22" lengthAdjust="spacingAndGlyphs">1</text>
<text x="1373.22" y="826" font-size="42" textLength="20.77" lengthAdjust="spacingAndGlyphs">0</text>
<text x="1394.83" y="811" font-size="29.5" textLength="15.73" lengthAdjust="spacingAndGlyphs">2</text>
<text x="1709.45" y="826" font-size="42" textLength="17.08" lengthAdjust="spacingAndGlyphs">1</text>
<text x="1726.12" y="826" font-size="42" textLength="20.77" lengthAdjust="spacingAndGlyphs">0</text>
<text x="1746.57" y="811" font-size="29.5" textLength="15.20" lengthAdjust="spacingAndGlyphs">4</text>
<text x="238.79" y="881.8" font-size="42" textLength="33.70" lengthAdjust="spacingAndGlyphs">И</text>
<text transform="translate(272.70 881.8) scale(1 0.955)" font-size="42" textLength="24.63" lengthAdjust="spacingAndGlyphs">н</text>
<text transform="translate(296.14 881.8) scale(1 0.955)" font-size="42" textLength="19.44" lengthAdjust="spacingAndGlyphs">т</text>
<text transform="translate(313.77 881.8) scale(1 0.955)" font-size="42" textLength="20.77" lengthAdjust="spacingAndGlyphs">е</text>
<text transform="translate(333.82 881.8) scale(1 0.955)" font-size="42" textLength="24.30" lengthAdjust="spacingAndGlyphs">н</text>
<text transform="translate(357.97 881.8) scale(1 0.955)" font-size="42" textLength="20.77" lengthAdjust="spacingAndGlyphs">с</text>
<text transform="translate(377.96 881.8) scale(1 0.955)" font-size="42" textLength="23.34" lengthAdjust="spacingAndGlyphs">и</text>
<text transform="translate(402.03 881.8) scale(1 0.955)" font-size="42" textLength="21.24" lengthAdjust="spacingAndGlyphs">в</text>
<text transform="translate(422.03 881.8) scale(1 0.955)" font-size="42" textLength="23.98" lengthAdjust="spacingAndGlyphs">н</text>
<text transform="translate(446.00 881.8) scale(1 0.955)" font-size="42" textLength="23.10" lengthAdjust="spacingAndGlyphs">о</text>
<text transform="translate(468.15 881.8) scale(1 0.955)" font-size="42" textLength="20.02" lengthAdjust="spacingAndGlyphs">с</text>
<text transform="translate(488.15 881.8) scale(1 0.955)" font-size="42" textLength="19.33" lengthAdjust="spacingAndGlyphs">т</text>
<text transform="translate(506.89 881.8) scale(1 0.955)" font-size="42" textLength="21.30" lengthAdjust="spacingAndGlyphs">ь</text>
<text x="526.40" y="881.8" font-size="42" textLength="12.07" lengthAdjust="spacingAndGlyphs">,</text>
<text transform="translate(546.87 881.8) scale(1 0.955)" font-size="42" textLength="48.25" lengthAdjust="spacingAndGlyphs">см</text>
<text x="616.72" y="867" font-size="29.5" textLength="12.93" lengthAdjust="spacingAndGlyphs">3</text>
<text transform="translate(638.83 881.8) scale(1 0.955)" font-size="42" textLength="20.27" lengthAdjust="spacingAndGlyphs">с</text>
<text x="681.52" y="867" font-size="29.5" textLength="12.69" lengthAdjust="spacingAndGlyphs">1</text>
<text x="1150.69" y="881.8" font-size="42" textLength="33.70" lengthAdjust="spacingAndGlyphs">И</text>
<text transform="translate(1184.60 881.8) scale(1 0.955)" font-size="42" textLength="24.63" lengthAdjust="spacingAndGlyphs">н</text>
<text transform="translate(1208.04 881.8) scale(1 0.955)" font-size="42" textLength="19.44" lengthAdjust="spacingAndGlyphs">т</text>
<text transform="translate(1225.67 881.8) scale(1 0.955)" font-size="42" textLength="20.77" lengthAdjust="spacingAndGlyphs">е</text>
<text transform="translate(1245.72 881.8) scale(1 0.955)" font-size="42" textLength="24.30" lengthAdjust="spacingAndGlyphs">н</text>
<text transform="translate(1269.87 881.8) scale(1 0.955)" font-size="42" textLength="20.77" lengthAdjust="spacingAndGlyphs">с</text>
<text transform="translate(1289.86 881.8) scale(1 0.955)" font-size="42" textLength="23.34" lengthAdjust="spacingAndGlyphs">и</text>
<text transform="translate(1313.93 881.8) scale(1 0.955)" font-size="42" textLength="21.24" lengthAdjust="spacingAndGlyphs">в</text>
<text transform="translate(1333.93 881.8) scale(1 0.955)" font-size="42" textLength="23.98" lengthAdjust="spacingAndGlyphs">н</text>
<text transform="translate(1357.90 881.8) scale(1 0.955)" font-size="42" textLength="23.10" lengthAdjust="spacingAndGlyphs">о</text>
<text transform="translate(1380.05 881.8) scale(1 0.955)" font-size="42" textLength="20.02" lengthAdjust="spacingAndGlyphs">с</text>
<text transform="translate(1400.05 881.8) scale(1 0.955)" font-size="42" textLength="19.33" lengthAdjust="spacingAndGlyphs">т</text>
<text transform="translate(1418.79 881.8) scale(1 0.955)" font-size="42" textLength="21.30" lengthAdjust="spacingAndGlyphs">ь</text>
<text x="1438.30" y="881.8" font-size="42" textLength="12.08" lengthAdjust="spacingAndGlyphs">,</text>
<text transform="translate(1458.77 881.8) scale(1 0.955)" font-size="42" textLength="48.25" lengthAdjust="spacingAndGlyphs">см</text>
<text x="1528.62" y="867" font-size="29.5" textLength="12.93" lengthAdjust="spacingAndGlyphs">3</text>
<text transform="translate(1550.73 881.8) scale(1 0.955)" font-size="42" textLength="20.27" lengthAdjust="spacingAndGlyphs">с</text>
<text x="1593.42" y="867" font-size="29.5" textLength="12.68" lengthAdjust="spacingAndGlyphs">1</text>
<text transform="translate(38.10 496.75) rotate(-90)" font-size="42" textLength="26.56" lengthAdjust="spacingAndGlyphs">В</text>
<text transform="translate(38.10 469.98) rotate(-90) scale(1 0.955)" font-size="42" textLength="30.61" lengthAdjust="spacingAndGlyphs">ы</text>
<text transform="translate(38.10 441.53) rotate(-90) scale(1 0.955)" font-size="42" textLength="19.90" lengthAdjust="spacingAndGlyphs">с</text>
<text transform="translate(38.10 421.46) rotate(-90) scale(1 0.955)" font-size="42" textLength="26.83" lengthAdjust="spacingAndGlyphs">о</text>
<text transform="translate(38.10 395.99) rotate(-90) scale(1 0.955)" font-size="42" textLength="14.58" lengthAdjust="spacingAndGlyphs">т</text>
<text transform="translate(38.10 380.19) rotate(-90) scale(1 0.955)" font-size="42" textLength="20.41" lengthAdjust="spacingAndGlyphs">а</text>
<text transform="translate(38.10 360.93) rotate(-90)" font-size="42" textLength="12.25" lengthAdjust="spacingAndGlyphs">,</text>
<text transform="translate(38.10 340.89) rotate(-90) scale(1 0.955)" font-size="42" textLength="18.26" lengthAdjust="spacingAndGlyphs">к</text>
<text transform="translate(38.10 322.10) rotate(-90) scale(1 0.955)" font-size="42" textLength="32.00" lengthAdjust="spacingAndGlyphs">м</text>
<text transform="translate(945.10 496.75) rotate(-90)" font-size="42" textLength="26.56" lengthAdjust="spacingAndGlyphs">В</text>
<text transform="translate(945.10 469.98) rotate(-90) scale(1 0.955)" font-size="42" textLength="30.61" lengthAdjust="spacingAndGlyphs">ы</text>
<text transform="translate(945.10 441.53) rotate(-90) scale(1 0.955)" font-size="42" textLength="19.90" lengthAdjust="spacingAndGlyphs">с</text>
<text transform="translate(945.10 421.46) rotate(-90) scale(1 0.955)" font-size="42" textLength="26.83" lengthAdjust="spacingAndGlyphs">о</text>
<text transform="translate(945.10 395.99) rotate(-90) scale(1 0.955)" font-size="42" textLength="14.58" lengthAdjust="spacingAndGlyphs">т</text>
<text transform="translate(945.10 380.19) rotate(-90) scale(1 0.955)" font-size="42" textLength="20.41" lengthAdjust="spacingAndGlyphs">а</text>
<text transform="translate(945.10 360.93) rotate(-90)" font-size="42" textLength="12.25" lengthAdjust="spacingAndGlyphs">,</text>
<text transform="translate(945.10 340.89) rotate(-90) scale(1 0.955)" font-size="42" textLength="18.26" lengthAdjust="spacingAndGlyphs">к</text>
<text transform="translate(945.10 322.10) rotate(-90) scale(1 0.955)" font-size="42" textLength="32.00" lengthAdjust="spacingAndGlyphs">м</text>
<text x="694.68" y="95" font-size="42" textLength="21.12" lengthAdjust="spacingAndGlyphs">7</text>
<text x="715.30" y="95" font-size="42" textLength="21.00" lengthAdjust="spacingAndGlyphs">6</text>
<text x="736.55" y="95" font-size="42" textLength="21.49" lengthAdjust="spacingAndGlyphs">2</text>
<text transform="translate(766.32 95) scale(1 0.955)" font-size="42" textLength="52.82" lengthAdjust="spacingAndGlyphs">нм</text>
<text x="1637.73" y="95" font-size="42" textLength="16.66" lengthAdjust="spacingAndGlyphs">1</text>
<text x="1653.90" y="95" font-size="42" textLength="21.00" lengthAdjust="spacingAndGlyphs">2</text>
<text x="1672.90" y="95" font-size="42" textLength="21.00" lengthAdjust="spacingAndGlyphs">7</text>
<text x="1693.98" y="95" font-size="42" textLength="21.23" lengthAdjust="spacingAndGlyphs">0</text>
<text transform="translate(1724.53 95) scale(1 0.955)" font-size="42" textLength="52.61" lengthAdjust="spacingAndGlyphs">нм</text></svg>
</body></html>
